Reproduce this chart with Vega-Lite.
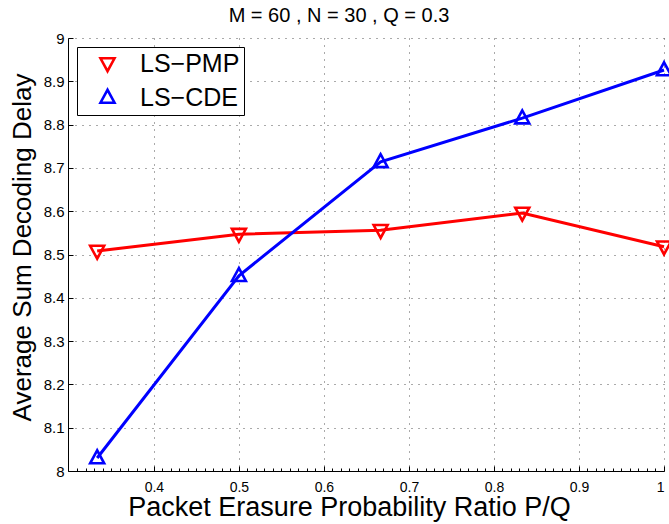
{
  "$schema": "https://vega.github.io/schema/vega-lite/v6.json",
  "width": 596,
  "height": 433,
  "autosize": "none",
  "padding": {"left": 68, "top": 38, "right": 5, "bottom": 53},
  "background": "white",
  "config": {
    "font": "Liberation Sans",
    "view": {"stroke": null},
    "axis": {"labelFont": "Liberation Sans", "titleFont": "Liberation Sans", "labelColor": "black", "titleColor": "black", "titleFontWeight": "normal", "domainColor": "black", "tickColor": "black"}
  },
  "title": {"text": "M = 60 , N = 30 , Q = 0.3", "fontSize": 20, "fontWeight": "normal", "font": "Liberation Sans", "color": "black", "anchor": "middle", "dx": -27, "offset": 12, "dy": 7},
  "data": {"values": [
    {"ratio": 0.3333, "delay": 8.508, "series": "LS−PMP"},
    {"ratio": 0.5, "delay": 8.547, "series": "LS−PMP"},
    {"ratio": 0.6667, "delay": 8.556, "series": "LS−PMP"},
    {"ratio": 0.8333, "delay": 8.596, "series": "LS−PMP"},
    {"ratio": 1.0, "delay": 8.518, "series": "LS−PMP"},
    {"ratio": 0.3333, "delay": 8.03, "series": "LS−CDE"},
    {"ratio": 0.5, "delay": 8.451, "series": "LS−CDE"},
    {"ratio": 0.6667, "delay": 8.714, "series": "LS−CDE"},
    {"ratio": 0.8333, "delay": 8.815, "series": "LS−CDE"},
    {"ratio": 1.0, "delay": 8.926, "series": "LS−CDE"}
  ]},
  "resolve": {"axis": {"x": "independent", "y": "independent"}},
  "layer": [
    {
      "mark": {"type": "point", "filled": false, "strokeWidth": 2.6, "size": 196, "opacity": 1},
      "encoding": {
        "x": {"field": "ratio", "type": "quantitative", "scale": {"domain": [0.299, 1], "nice": false, "zero": false},
          "axis": {"orient": "top", "offset": -433, "minExtent": 0, "maxExtent": 0, "values": [0.4, 0.5, 0.6, 0.7, 0.8, 0.9, 1.0], "labels": false, "domain": false, "grid": false, "ticks": true, "tickSize": 5, "title": null}},
        "y": {"field": "delay", "type": "quantitative", "scale": {"domain": [8, 9], "nice": false, "zero": false},
          "axis": {"orient": "right", "offset": -596, "minExtent": 0, "maxExtent": 0, "values": [8, 8.1, 8.2, 8.3, 8.4, 8.5, 8.6, 8.7, 8.8, 8.9, 9], "labels": false, "domain": false, "grid": false, "ticks": true, "tickSize": 5, "title": null}},
        "color": {"field": "series", "type": "nominal", "scale": {"domain": ["LS−PMP", "LS−CDE"], "range": ["#ff0000", "#0000ff"]},
          "legend": {"title": null, "orient": "none", "legendX": 9, "legendY": 9, "padding": 4, "rowPadding": 7, "labelFontSize": 25, "labelFont": "Liberation Sans", "labelColor": "black", "labelOffset": 20, "symbolOffset": 14, "symbolSize": 196, "symbolStrokeWidth": 2.6, "symbolOpacity": 1, "fillColor": "white", "strokeColor": "black", "cornerRadius": 0}},
        "shape": {"field": "series", "type": "nominal",
          "scale": {"domain": ["LS−PMP", "LS−CDE"], "range": ["M0,1.1L-1,-0.75L1,-0.75Z", "M0,-1.1L-1,0.75L1,0.75Z"]},
          "legend": {"title": null, "orient": "none", "legendX": 9, "legendY": 9, "padding": 4, "rowPadding": 7, "labelFontSize": 25, "labelFont": "Liberation Sans", "labelColor": "black", "labelOffset": 20, "symbolOffset": 14, "symbolSize": 196, "symbolStrokeWidth": 2.6, "symbolOpacity": 1, "fillColor": "white", "strokeColor": "black", "cornerRadius": 0}}
      }
    },
    {
      "mark": {"type": "line", "strokeWidth": 3},
      "encoding": {
        "x": {"field": "ratio", "type": "quantitative",
          "axis": {"orient": "bottom", "values": [0.4, 0.5, 0.6, 0.7, 0.8, 0.9, 1.0], "format": "~g", "labelFontSize": 14, "labelPadding": 9, "ticks": false, "grid": true, "gridColor": "#555", "gridDash": [1, 6], "gridWidth": 1, "title": "Packet Erasure Probability Ratio P/Q", "titleFontSize": 27, "titleX": 281, "titleY": 44, "titleBaseline": "alphabetic", "titleAnchor": "middle"}},
        "y": {"field": "delay", "type": "quantitative",
          "axis": {"orient": "left", "values": [8, 8.1, 8.2, 8.3, 8.4, 8.5, 8.6, 8.7, 8.8, 8.9, 9], "format": "~g", "labelFontSize": 15, "labelPadding": 4, "ticks": false, "grid": true, "gridColor": "#555", "gridDash": [1, 6], "gridWidth": 1, "title": "Average Sum Decoding Delay", "titleFontSize": 26, "titleX": -38, "titleY": 209, "titleAngle": -90, "titleBaseline": "alphabetic", "titleAnchor": "middle"}},
        "color": {"field": "series", "type": "nominal"}
      }
    },
    {
      "mark": {"type": "point", "opacity": 0},
      "encoding": {
        "x": {"field": "ratio", "type": "quantitative",
          "axis": {"orient": "top", "offset": -433, "minExtent": 0, "maxExtent": 0, "values": [0.31,0.32,0.33,0.34,0.35,0.36,0.37,0.38,0.39,0.41,0.42,0.43,0.44,0.45,0.46,0.47,0.48,0.49,0.51,0.52,0.53,0.54,0.55,0.56,0.57,0.58,0.59,0.61,0.62,0.63,0.64,0.65,0.66,0.67,0.68,0.69,0.71,0.72,0.73,0.74,0.75,0.76,0.77,0.78,0.79,0.81,0.82,0.83,0.84,0.85,0.86,0.87,0.88,0.89,0.91,0.92,0.93,0.94,0.95,0.96,0.97,0.98,0.99], "labels": false, "domain": false, "grid": false, "ticks": true, "tickSize": 3, "title": null}},
        "y": {"field": "delay", "type": "quantitative", "axis": null}
      }
    }
  ]
}
